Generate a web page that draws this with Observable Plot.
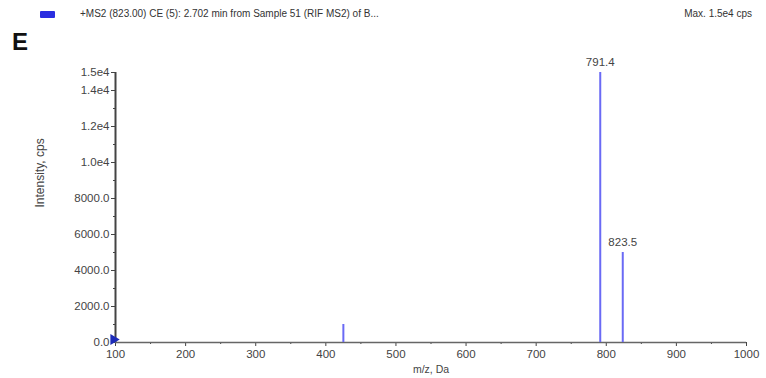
<!DOCTYPE html>
<html>
<head>
<meta charset="utf-8">
<script src="https://cdn.jsdelivr.net/npm/d3@7"></script>
<script src="https://cdn.jsdelivr.net/npm/@observablehq/plot@0.6"></script>
<style>
  body { margin: 0; background: #fff; font-family: "Liberation Sans", Arial, sans-serif; }
  #wrap { position: relative; width: 766px; height: 378px; overflow: hidden; }
  #wrap svg { position: absolute; left: 0; top: 0; }
  .hdr { position: absolute; font-size: 10px; color: #333; white-space: nowrap; }
  #swatch { position: absolute; left: 40px; top: 11px; width: 15px; height: 7px; background: #2a2ee0; border-radius: 1px; }
  #panel { position: absolute; left: 12px; top: 28px; font-size: 24px; font-weight: bold; color: #111; font-family: "Liberation Sans", Arial, sans-serif; }
</style>
</head>
<body>
<div id="wrap">
  <div id="swatch"></div>
  <div class="hdr" id="title" style="left:80px; top:8px;"></div>
  <div class="hdr" id="maxlbl" style="right:14px; top:8px;"></div>
  <div id="panel">E</div>
</div>
<script>
// ---- data ----
const titleText = "+MS2 (823.00) CE (5): 2.702 min from Sample 51 (RIF MS2) of B...";
const maxText = "Max. 1.5e4 cps";
const mz = [425.0, 791.4, 823.5];
const intensity = [1000, 15000, 5000];
const peakLabels = ["", "791.4", "823.5"];
const xTicks = [100, 200, 300, 400, 500, 600, 700, 800, 900, 1000];
const xMinor = [150, 250, 350, 450, 550, 650, 750, 850, 950];
const yTicks = [0, 2000, 4000, 6000, 8000, 10000, 12000, 14000, 15000];
const yMinor = [1000, 3000, 5000, 7000, 9000, 11000, 13000];
const xLabel = "m/z, Da";
const yLabel = "Intensity, cps";

document.getElementById("title").textContent = titleText;
document.getElementById("maxlbl").textContent = maxText;

const peaks = mz.map((m, i) => ({mz: m, y: intensity[i], label: peakLabels[i]}));
const fmtY = d => d >= 1e4 ? d.toExponential(1).replace("e+", "e") : d.toFixed(1);
const axisColor = "#444";

const chart = Plot.plot({
  width: 766,
  height: 378,
  marginLeft: 115,
  marginRight: 20,
  marginTop: 72,
  marginBottom: 36,
  style: {fontFamily: "Liberation Sans, Arial, sans-serif", fontSize: "11.5px", color: "#444", background: "transparent"},
  x: {domain: [100, 1000]},
  y: {domain: [0, 15000]},
  marks: [
    Plot.axisX({ticks: xTicks, tickSize: 4, tickPadding: 3, stroke: axisColor, tickFormat: d => String(d), label: null}),
    Plot.axisX({ticks: xMinor, tickSize: 2, stroke: axisColor, tickFormat: () => "", label: null}),
    Plot.axisY({ticks: yTicks, tickSize: 4, tickPadding: 2, stroke: axisColor, tickFormat: fmtY, label: null}),
    Plot.axisY({ticks: yMinor, tickSize: 2, stroke: axisColor, tickFormat: () => "", label: null}),
    Plot.ruleY([0], {stroke: "#666", strokeWidth: 1.5}),
    Plot.ruleX([100], {stroke: axisColor, strokeWidth: 2}),
    Plot.ruleX(peaks, {x: "mz", y1: 0, y2: "y", stroke: "#6a6af5", strokeWidth: 2}),
    Plot.text(peaks.filter(d => d.label), {x: "mz", y: "y", text: "label", dy: -10, fill: "#444", fontSize: 11.5}),
    Plot.dot([{x: 100, y: 0}], {x: "x", y: "y", symbol: "triangle", rotate: 90, r: 4, fill: "#1c2bb8", stroke: "none", dx: -2, dy: -3}),
    Plot.text([xLabel], {frameAnchor: "bottom", dy: 30, text: d => d, fill: "#444", fontSize: 10.5}),
    Plot.text([yLabel], {frameAnchor: "left", dx: -75, rotate: -90, text: d => d, fill: "#444", fontSize: 12})
  ]
});
document.getElementById("wrap").prepend(chart);
</script>
</body>
</html>
